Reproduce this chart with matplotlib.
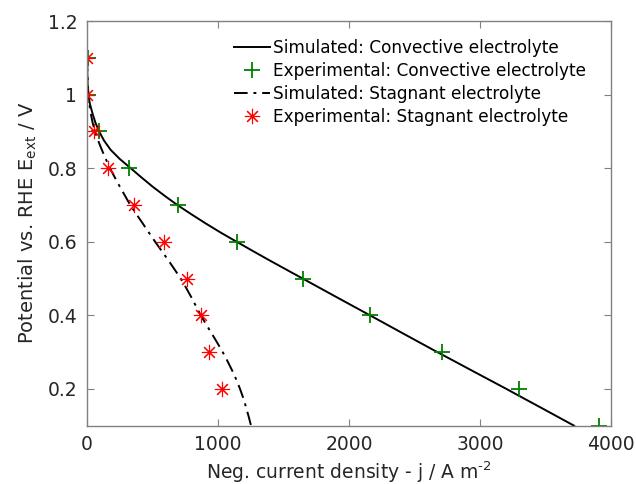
import matplotlib
matplotlib.use("Agg")
import matplotlib.pyplot as plt
from matplotlib.ticker import FormatStrFormatter

plt.rcParams['font.family'] = ['DejaVu Sans']
plt.rcParams['mathtext.default'] = 'regular'

# Simulated curves (potential grid, V)
sim_V = [1.1, 1.075, 1.05, 1.025, 1.0, 0.975, 0.95, 0.925, 0.9, 0.875, 0.85,
         0.825, 0.8, 0.775, 0.75, 0.725, 0.7, 0.675, 0.65, 0.625, 0.6,
         0.575, 0.55, 0.525, 0.5, 0.475, 0.45, 0.425, 0.4, 0.375, 0.35,
         0.325, 0.3, 0.275, 0.25, 0.225, 0.2, 0.175, 0.15, 0.125, 0.1]
sim_conv_j = [0, 1, 3, 5, 10, 22, 41, 63, 92, 130, 180,
              250, 333, 415, 500, 592, 689, 795, 905, 1020, 1142,
              1265, 1390, 1518, 1646, 1774, 1902, 2031, 2160, 2288, 2416,
              2545, 2674, 2806, 2937, 3069, 3201, 3330, 3460, 3589, 3718]
sim_stag_j = [0, 2, 4, 7, 11, 18, 28, 42, 60, 85, 113,
              143, 175, 212, 250, 290, 330, 377, 425, 472, 520,
              570, 620, 668, 715, 756, 795, 832, 868, 910, 953,
              995, 1036, 1073, 1108, 1140, 1168, 1193, 1214, 1234, 1252]

# Experimental points
exp_V = [1.1, 1.0, 0.9, 0.8, 0.7, 0.6, 0.5, 0.4, 0.3, 0.2, 0.1]
exp_conv_j = [5, 10, 92, 320, 692, 1143, 1650, 2160, 2707, 3300, 3911]
exp_stag_V = [1.1, 1.0, 0.9, 0.8, 0.7, 0.6, 0.5, 0.4, 0.3, 0.2]
exp_stag_j = [2, 0, 51, 158, 361, 590, 761, 870, 934, 1033]

fig = plt.figure(figsize=(6.36, 4.84), dpi=100)
ax = fig.add_axes([0.1368, 0.1205, 0.8239, 0.8361])

ax.plot(sim_conv_j, sim_V, color='black', lw=1.4, label='Simulated: Convective electrolyte')
ax.plot(exp_conv_j, exp_V, linestyle='none', marker='+', color='#008000', ms=12, mew=1.3,
        label='Experimental: Convective electrolyte')
ax.plot(sim_stag_j, sim_V, color='black', lw=1.4, linestyle=(0, (7, 3, 1.5, 3)),
        label='Simulated: Stagnant electrolyte')
ax.plot(exp_stag_j, exp_stag_V, linestyle='none', marker=(8, 2, 0), color='#ff0000', ms=11, mew=0.8,
        label='Experimental: Stagnant electrolyte')

ax.set_xlim(0, 4000)
ax.set_ylim(0.1, 1.2)
ax.set_xticks([0, 1000, 2000, 3000, 4000])
ax.set_yticks([0.2, 0.4, 0.6, 0.8, 1.0, 1.2])
ax.yaxis.set_major_formatter(FormatStrFormatter('%g'))

for s in ax.spines.values():
    s.set_color('#808080')
    s.set_linewidth(1.0)
ax.tick_params(direction='in', length=5, width=0.8, color='#808080', labelcolor='#262626',
               labelsize=13.5, top=True, right=True, pad=7)

ax.set_xlabel('Neg. current density - j / A m$^{\u2010 2}$'.replace('\u2010 ', '\u2010'),
              fontsize=13.5, color='#262626')
ax.set_ylabel('Potential vs. RHE E$_{ext}$ / V', fontsize=14, color='#262626', labelpad=6)

ax.legend(loc='upper right', bbox_to_anchor=(0.975, 0.985), frameon=False, fontsize=12.2,
          handlelength=2.1, handletextpad=0.2, labelspacing=0.3, borderaxespad=0.3)

fig.savefig('out.png', dpi=100)
